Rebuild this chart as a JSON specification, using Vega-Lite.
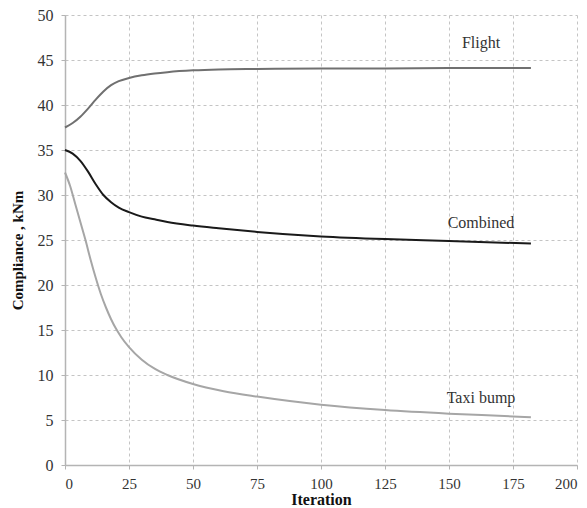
{
  "$schema": "https://vega.github.io/schema/vega-lite/v6.json",
  "width": 512,
  "height": 450,
  "autosize": {"type": "none"},
  "padding": {"left": 65, "top": 15, "right": 10, "bottom": 43},
  "background": "white",
  "config": {
    "view": {"stroke": null},
    "font": "Liberation Serif",
    "axis": {
      "gridColor": "#c4c4c4",
      "gridDash": [3, 3],
      "gridWidth": 1,
      "domainColor": "#b4b4b4",
      "domainWidth": 1.5,
      "tickColor": "#b4b4b4",
      "tickSize": 4,
      "labelFont": "Liberation Serif",
      "labelColor": "#333333",
      "titleFont": "Liberation Serif",
      "titleFontWeight": "bold",
      "titleColor": "#111111"
    }
  },
  "datasets": {
    "lines": [
      {"series": "Flight", "iter": 0, "value": 37.5},
      {"series": "Flight", "iter": 3, "value": 38.0},
      {"series": "Flight", "iter": 6, "value": 38.7},
      {"series": "Flight", "iter": 9, "value": 39.6},
      {"series": "Flight", "iter": 12, "value": 40.6},
      {"series": "Flight", "iter": 15, "value": 41.5},
      {"series": "Flight", "iter": 18, "value": 42.2},
      {"series": "Flight", "iter": 21, "value": 42.65},
      {"series": "Flight", "iter": 25, "value": 43.0},
      {"series": "Flight", "iter": 30, "value": 43.3},
      {"series": "Flight", "iter": 35, "value": 43.5},
      {"series": "Flight", "iter": 40, "value": 43.65},
      {"series": "Flight", "iter": 50, "value": 43.85},
      {"series": "Flight", "iter": 60, "value": 43.95},
      {"series": "Flight", "iter": 75, "value": 44.0},
      {"series": "Flight", "iter": 100, "value": 44.05},
      {"series": "Flight", "iter": 125, "value": 44.05},
      {"series": "Flight", "iter": 150, "value": 44.1},
      {"series": "Flight", "iter": 182, "value": 44.1},
      {"series": "Combined", "iter": 0, "value": 35.0},
      {"series": "Combined", "iter": 3, "value": 34.6},
      {"series": "Combined", "iter": 6, "value": 33.8},
      {"series": "Combined", "iter": 9, "value": 32.6},
      {"series": "Combined", "iter": 12, "value": 31.2},
      {"series": "Combined", "iter": 15, "value": 30.0},
      {"series": "Combined", "iter": 18, "value": 29.2},
      {"series": "Combined", "iter": 21, "value": 28.6},
      {"series": "Combined", "iter": 25, "value": 28.1},
      {"series": "Combined", "iter": 30, "value": 27.6},
      {"series": "Combined", "iter": 35, "value": 27.3},
      {"series": "Combined", "iter": 40, "value": 27.0},
      {"series": "Combined", "iter": 50, "value": 26.6},
      {"series": "Combined", "iter": 60, "value": 26.3},
      {"series": "Combined", "iter": 75, "value": 25.9},
      {"series": "Combined", "iter": 100, "value": 25.4},
      {"series": "Combined", "iter": 125, "value": 25.1},
      {"series": "Combined", "iter": 150, "value": 24.9},
      {"series": "Combined", "iter": 182, "value": 24.6},
      {"series": "Taxi bump", "iter": 0, "value": 32.5},
      {"series": "Taxi bump", "iter": 2, "value": 31.0},
      {"series": "Taxi bump", "iter": 4, "value": 29.0},
      {"series": "Taxi bump", "iter": 6, "value": 27.0},
      {"series": "Taxi bump", "iter": 8, "value": 25.0},
      {"series": "Taxi bump", "iter": 10, "value": 22.8},
      {"series": "Taxi bump", "iter": 12, "value": 20.8},
      {"series": "Taxi bump", "iter": 14, "value": 19.0},
      {"series": "Taxi bump", "iter": 16, "value": 17.5},
      {"series": "Taxi bump", "iter": 18, "value": 16.2},
      {"series": "Taxi bump", "iter": 20, "value": 15.1},
      {"series": "Taxi bump", "iter": 22, "value": 14.2},
      {"series": "Taxi bump", "iter": 25, "value": 13.1},
      {"series": "Taxi bump", "iter": 30, "value": 11.7},
      {"series": "Taxi bump", "iter": 35, "value": 10.7},
      {"series": "Taxi bump", "iter": 40, "value": 10.0},
      {"series": "Taxi bump", "iter": 50, "value": 9.0},
      {"series": "Taxi bump", "iter": 62, "value": 8.2},
      {"series": "Taxi bump", "iter": 75, "value": 7.6},
      {"series": "Taxi bump", "iter": 100, "value": 6.7},
      {"series": "Taxi bump", "iter": 125, "value": 6.1},
      {"series": "Taxi bump", "iter": 150, "value": 5.7},
      {"series": "Taxi bump", "iter": 175, "value": 5.4},
      {"series": "Taxi bump", "iter": 182, "value": 5.3}
    ],
    "labels": [
      {"series": "Flight", "iter": 162.5, "value": 46.9},
      {"series": "Combined", "iter": 162.5, "value": 26.9},
      {"series": "Taxi bump", "iter": 162.5, "value": 7.4}
    ]
  },
  "layer": [
    {
      "data": {"name": "lines"},
      "mark": {"type": "line", "strokeWidth": 2, "interpolate": "monotone"},
      "encoding": {
        "x": {
          "field": "iter", "type": "quantitative",
          "scale": {"domain": [0, 200], "nice": false},
          "axis": {"values": [0, 25, 50, 75, 100, 125, 150, 175, 200], "title": "Iteration", "labelFontSize": 15, "labelPadding": 7, "titleFontSize": 16, "titlePadding": 0}
        },
        "y": {
          "field": "value", "type": "quantitative",
          "scale": {"domain": [0, 50], "nice": false},
          "axis": {"values": [0, 5, 10, 15, 20, 25, 30, 35, 40, 45, 50], "title": "Compliance , kNm", "labelFontSize": 16, "labelPadding": 8, "titleFontSize": 15, "titlePadding": 12, "titleY": 235}
        },
        "color": {
          "field": "series", "type": "nominal",
          "scale": {"domain": ["Flight", "Combined", "Taxi bump"], "range": ["#707070", "#1a1a1a", "#a6a6a6"]},
          "legend": null
        },
        "detail": {"field": "series"}
      }
    },
    {
      "data": {"name": "labels"},
      "mark": {"type": "text", "fontSize": 16, "font": "Liberation Serif", "color": "#333333", "align": "center", "baseline": "middle"},
      "encoding": {
        "x": {"field": "iter", "type": "quantitative"},
        "y": {"field": "value", "type": "quantitative"},
        "text": {"field": "series"}
      }
    }
  ]
}
